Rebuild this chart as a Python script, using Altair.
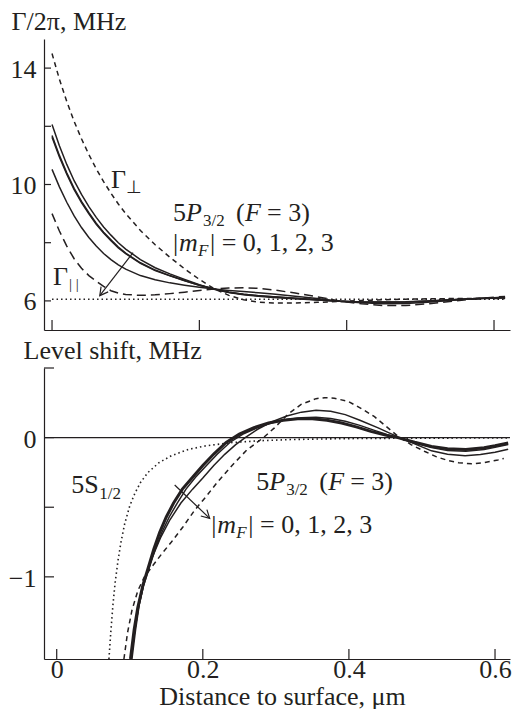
import altair as alt
import pandas as pd

FONT = "Liberation Serif"
INK = "#231f20"
FS = 26
SUB = 17

# ---------------- top panel: decay rate (MHz) vs distance (um) ----------------
top_x = [0, 0.01, 0.02, 0.03, 0.04, 0.05, 0.06, 0.07, 0.08, 0.09, 0.10, 0.12, 0.14, 0.16,
         0.18, 0.20, 0.22, 0.24, 0.26, 0.28, 0.30, 0.33, 0.36, 0.39, 0.42, 0.45, 0.48, 0.51,
         0.54, 0.57, 0.60, 0.615]
gamma_perp = [14.5, 13.62, 12.85, 12.17, 11.57, 11.03, 10.54, 10.1, 9.7, 9.33, 9.0, 8.42, 7.93, 7.5,
              7.1, 6.74, 6.42, 6.19, 6.04, 5.96, 5.93, 5.93, 5.95, 5.98, 6.01, 6.04, 6.06, 6.07,
              6.08, 6.08, 6.08, 6.08]
gamma_par = [9.0, 8.4, 7.88, 7.45, 7.12, 6.87, 6.68, 6.5, 6.35, 6.27, 6.22, 6.19, 6.21, 6.25,
             6.3, 6.36, 6.41, 6.44, 6.45, 6.43, 6.38, 6.27, 6.14, 6.0, 5.9, 5.84, 5.84, 5.9,
             5.98, 6.06, 6.13, 6.15]
gamma_mf0 = [12.06, 11.33, 10.69, 10.13, 9.66, 9.24, 8.87, 8.54, 8.26, 8.0, 7.78, 7.42, 7.14, 6.93,
             6.74, 6.56, 6.40, 6.29, 6.21, 6.16, 6.12, 6.07, 6.03, 5.99, 5.96, 5.96, 5.97, 6.0,
             6.04, 6.07, 6.10, 6.11]
gamma_mf1 = [11.68, 11.0, 10.4, 9.87, 9.42, 9.03, 8.67, 8.36, 8.10, 7.85, 7.64, 7.31, 7.06, 6.87,
             6.70, 6.54, 6.41, 6.30, 6.23, 6.18, 6.14, 6.09, 6.04, 5.99, 5.96, 5.95, 5.96, 5.99,
             6.03, 6.07, 6.10, 6.11]
gamma_mf2 = [11.62, 10.95, 10.35, 9.82, 9.38, 8.99, 8.63, 8.33, 8.07, 7.82, 7.62, 7.29, 7.04, 6.86,
             6.69, 6.54, 6.41, 6.30, 6.23, 6.18, 6.14, 6.09, 6.04, 5.99, 5.96, 5.95, 5.96, 5.99,
             6.03, 6.07, 6.10, 6.11]
gamma_mf3 = [10.52, 9.92, 9.39, 8.92, 8.52, 8.18, 7.89, 7.63, 7.42, 7.24, 7.09, 6.87, 6.73, 6.62,
             6.54, 6.47, 6.41, 6.36, 6.32, 6.28, 6.24, 6.16, 6.08, 5.99, 5.94, 5.90, 5.91, 5.95,
             6.01, 6.07, 6.11, 6.13]
free_x = [0, 0.615]
free_y = [6.06, 6.06]

# ---------------- bottom panel: level shift (MHz) vs distance (um) ----------------
s12_x = [0.0715, 0.074, 0.077, 0.080, 0.084, 0.088, 0.093, 0.10, 0.107, 0.115, 0.125, 0.14,
         0.157, 0.18, 0.203, 0.24, 0.28, 0.32, 0.36, 0.42, 0.50, 0.618]
s12_y = [-1.59, -1.40, -1.20, -1.04, -0.88, -0.75, -0.62, -0.49, -0.40, -0.32, -0.25, -0.18,
         -0.13, -0.085, -0.06, -0.035, -0.022, -0.014, -0.01, -0.006, -0.004, -0.002]

p0_x = [0.101, 0.106, 0.111, 0.118, 0.125, 0.133, 0.141, 0.15, 0.16, 0.172, 0.186, 0.2, 0.215,
        0.232, 0.25, 0.27, 0.29, 0.31, 0.33, 0.35, 0.37, 0.39, 0.41, 0.43, 0.45, 0.467, 0.49,
        0.513, 0.535, 0.56, 0.585, 0.60, 0.618]
p0_y = [-1.59, -1.38, -1.22, -1.06, -0.94, -0.8, -0.68, -0.57, -0.47, -0.37, -0.285, -0.2, -0.118,
        -0.035, 0.025, 0.072, 0.105, 0.125, 0.136, 0.136, 0.125, 0.105, 0.077, 0.045, 0.018, 0.0,
        -0.033, -0.063, -0.08, -0.085, -0.072, -0.058, -0.038]

p1_x = [0.102, 0.107, 0.112, 0.119, 0.127, 0.135, 0.144, 0.154, 0.165, 0.177, 0.19, 0.205, 0.22,
        0.237, 0.255, 0.275, 0.295, 0.315, 0.335, 0.355, 0.375, 0.395, 0.415, 0.435, 0.452, 0.467,
        0.49, 0.513, 0.535, 0.56, 0.585, 0.60, 0.618]
p1_y = [-1.59, -1.38, -1.22, -1.06, -0.93, -0.8, -0.68, -0.57, -0.47, -0.37, -0.285, -0.2, -0.118,
        -0.035, 0.025, 0.072, 0.107, 0.13, 0.143, 0.146, 0.138, 0.118, 0.088, 0.052, 0.022, 0.0,
        -0.038, -0.072, -0.092, -0.098, -0.086, -0.07, -0.05]

p2_x = [0.103, 0.108, 0.113, 0.12, 0.13, 0.142, 0.155, 0.17, 0.186, 0.2, 0.215, 0.23, 0.245,
        0.258, 0.275, 0.295, 0.315, 0.335, 0.355, 0.375, 0.395, 0.415, 0.44, 0.467, 0.49, 0.513,
        0.535, 0.559, 0.58, 0.60, 0.618]
p2_y = [-1.59, -1.38, -1.2, -1.03, -0.87, -0.72, -0.59, -0.47, -0.37, -0.29, -0.2, -0.12, -0.05,
        0.0, 0.06, 0.115, 0.155, 0.183, 0.196, 0.19, 0.165, 0.125, 0.07, 0.005, -0.045, -0.095,
        -0.12, -0.13, -0.122, -0.105, -0.083]

p3_x = [0.092, 0.097, 0.103, 0.111, 0.12, 0.13, 0.143, 0.157, 0.173, 0.189, 0.205, 0.22, 0.24,
        0.26, 0.283, 0.298, 0.317, 0.335, 0.355, 0.367, 0.38, 0.399, 0.42, 0.435, 0.45, 0.467,
        0.485, 0.504, 0.52, 0.536, 0.55, 0.568, 0.585, 0.604, 0.612]
p3_y = [-1.59, -1.4, -1.24, -1.1, -1.0, -0.93, -0.84, -0.75, -0.64, -0.52, -0.42, -0.32, -0.2,
        -0.09, 0.0, 0.07, 0.17, 0.24, 0.28, 0.287, 0.283, 0.26, 0.2, 0.15, 0.085, 0.01, -0.05,
        -0.1, -0.138, -0.165, -0.18, -0.188, -0.18, -0.16, -0.15]

# ticks
top_xticks = [0, 0.2, 0.4, 0.6]
top_yticks = [6, 8, 10, 12, 14]
bot_xticks = [0, 0.2, 0.4, 0.6]
bot_yticks = [-1.0, -0.5, 0, 0.5]

# arrows (start -> end), in data units
top_arrow = {"x": [0.110], "y": [7.66], "x2": [0.0648], "y2": [6.18]}
bot_arrow = {"x": [0.1615], "y": [-0.34], "x2": [0.2094], "y2": [-0.58]}

W = 466
H = 291


def sdf(xs, ys, name):
    return pd.DataFrame({"x": xs, "y": ys, "s": name})


def line(df, X, Y, width, dash=None):
    kw = dict(color=INK, strokeWidth=width, clip=True)
    if dash:
        kw["strokeDash"] = dash
    return alt.Chart(df).mark_line(**kw).encode(x=X, y=Y, detail="s:N")


def rich(xv, yv, pieces, X, Y):
    df = pd.DataFrame({"x": [xv], "y": [yv]})
    out = []
    for txt, dx, dy, size, style in pieces:
        out.append(alt.Chart(df).mark_text(
            text=txt, dx=dx, dy=dy, fontSize=size, fontStyle=style, font=FONT,
            color=INK, align="left", baseline="alphabetic").encode(x=X, y=Y))
    return out


def arrow(d, X, Y, angle):
    df = pd.DataFrame(d)
    shaft = alt.Chart(df).mark_rule(color=INK, strokeWidth=1.2).encode(
        x=X, y=Y, x2="x2:Q", y2="y2:Q")
    head = alt.Chart(pd.DataFrame({"x": d["x2"], "y": d["y2"]})).mark_point(
        shape="M -0.55 1 L 0 0 L 0.55 1", size=260, angle=angle, filled=False,
        color=INK, strokeWidth=1.2, opacity=1).encode(x=X, y=Y)
    return [shaft, head]


P_PIECES = [("5", 0, 0, FS, "normal"), ("P", 13, 0, FS, "italic"), ("3/2", 30, 5, SUB, "normal"),
            ("(", 63, 0, FS, "normal"), ("F", 72, 0, FS, "italic"), ("= 3)", 94, 0, FS, "normal")]
M_PIECES = [("|", 0, 0, FS, "normal"), ("m", 6, 0, FS, "italic"), ("F", 25, 5, SUB, "italic"),
            ("| = 0, 1, 2, 3", 37, 0, FS, "normal")]

# ---------------- top chart ----------------
Xt = alt.X("x:Q", scale=alt.Scale(domain=[-0.0109, 0.6217], nice=False, zero=False),
           axis=alt.Axis(title=None, labels=False, ticks=False, grid=False))
Yt = alt.Y("y:Q", scale=alt.Scale(domain=[5, 15], nice=False, zero=False),
           axis=alt.Axis(values=top_yticks, labelExpr="datum.value % 4 == 2 ? datum.label : ''",
                         title="Γ/2π, MHz", titleAngle=0, titleAlign="left",
                         titleBaseline="alphabetic", titleX=-33, titleY=-10,
                         labelPadding=8, labelBaseline="middle", labelOffset=1,
                         ticks=False, grid=False))

top_solid = pd.concat([sdf(top_x, gamma_mf0, "0"), sdf(top_x, gamma_mf1, "1"),
                       sdf(top_x, gamma_mf2, "2"), sdf(top_x, gamma_mf3, "3")])
top_layers = [
    line(sdf(free_x, free_y, "free"), Xt, Yt, 1.5, [1.5, 3]),
    line(sdf(top_x, gamma_par, "par"), Xt, Yt, 1.5, [9, 5]),
    line(sdf(top_x, gamma_perp, "perp"), Xt, Yt, 1.5, [5, 4]),
    line(top_solid, Xt, Yt, 1.5),
    alt.Chart(pd.DataFrame({"x": top_xticks})).mark_rule(color=INK, strokeWidth=1.2).encode(
        x=Xt, y=alt.value(H), y2=alt.value(H - 10)),
    alt.Chart(pd.DataFrame({"y": top_yticks})).mark_rule(color=INK, strokeWidth=1.2).encode(
        y=Yt, x=alt.value(0), x2=alt.value(7)),
]
top_layers += arrow(top_arrow, Xt, Yt, 217)
top_layers += rich(0.080, 9.88, [("Γ", 0, 0, FS, "normal"), ("⊥", 15, 5, 18, "normal")], Xt, Yt)
top_layers += rich(0.0014, 6.53, [("Γ", 0, 0, FS, "normal"), ("| |", 16, 4, 15, "normal")], Xt, Yt)
top_layers += rich(0.1642, 8.76, P_PIECES, Xt, Yt)
top_layers += rich(0.1642, 7.70, M_PIECES, Xt, Yt)
top = alt.layer(*top_layers).properties(width=W, height=H)

# ---------------- bottom chart ----------------
Xb = alt.X("x:Q", scale=alt.Scale(domain=[-0.0174, 0.6205], nice=False, zero=False),
           axis=alt.Axis(values=bot_xticks,
                         labelExpr="datum.value == 0 ? '0' : format(datum.value, '.1f')",
                         labelPadding=18, labelBaseline="alphabetic", labelFlush=False,
                         title="Distance to surface, μm", titleX=238, titleY=45,
                         titleBaseline="alphabetic", titleAlign="center",
                         ticks=False, grid=False))
Yb = alt.Y("y:Q", scale=alt.Scale(domain=[-1.59, 0.5], nice=False, zero=False),
           axis=alt.Axis(values=bot_yticks,
                         labelExpr="datum.value == 0 ? '0' : (datum.value == -1 ? '\u22121' : '')",
                         title="Level shift, MHz", titleAngle=0, titleAlign="left",
                         titleBaseline="alphabetic", titleX=-21, titleY=-10,
                         labelPadding=8, labelBaseline="middle", labelOffset=2,
                         ticks=False, grid=False))

bot_thin = pd.concat([sdf(p1_x, p1_y, "1"), sdf(p2_x, p2_y, "2")])
bot_layers = [
    alt.Chart(pd.DataFrame({"y": [0]})).mark_rule(color=INK, strokeWidth=1.1).encode(y=Yb),
    line(sdf(s12_x, s12_y, "s"), Xb, Yb, 1.6, [1.5, 3]),
    line(sdf(p3_x, p3_y, "3"), Xb, Yb, 1.5, [5, 4]),
    line(bot_thin, Xb, Yb, 1.5),
    line(sdf(p0_x, p0_y, "0"), Xb, Yb, 3),
    alt.Chart(pd.DataFrame({"x": bot_xticks})).mark_rule(color=INK, strokeWidth=1.2).encode(
        x=Xb, y=alt.value(H), y2=alt.value(H - 10)),
    alt.Chart(pd.DataFrame({"y": bot_yticks})).mark_rule(color=INK, strokeWidth=1.2).encode(
        y=Yb, x=alt.value(0), x2=alt.value(10)),
]
bot_layers += arrow(bot_arrow, Xb, Yb, 133.6)
bot_layers += rich(0.020, -0.398, [("5", 0, 0, FS, "normal"), ("S", 13, 0, FS, "normal"),
                                   ("1/2", 28, 6, SUB, "normal")], Xb, Yb)
bot_layers += rich(0.273, -0.376, P_PIECES, Xb, Yb)
bot_layers += rich(0.2116, -0.684, M_PIECES, Xb, Yb)
bottom = alt.layer(*bot_layers).properties(width=W, height=H)

chart = alt.vconcat(top, bottom, spacing=38, bounds="flush").properties(
    padding={"left": 0, "top": 0, "right": 0, "bottom": 0}
).configure_view(stroke=None).configure_axis(
    labelFont=FONT, titleFont=FONT, labelFontSize=FS, titleFontSize=FS,
    titleFontWeight="normal", labelColor=INK, titleColor=INK,
    domainColor=INK, domainWidth=1.2, labelOverlap=False
)

chart.save("out.html", embed_options={"renderer": "svg", "actions": False})
